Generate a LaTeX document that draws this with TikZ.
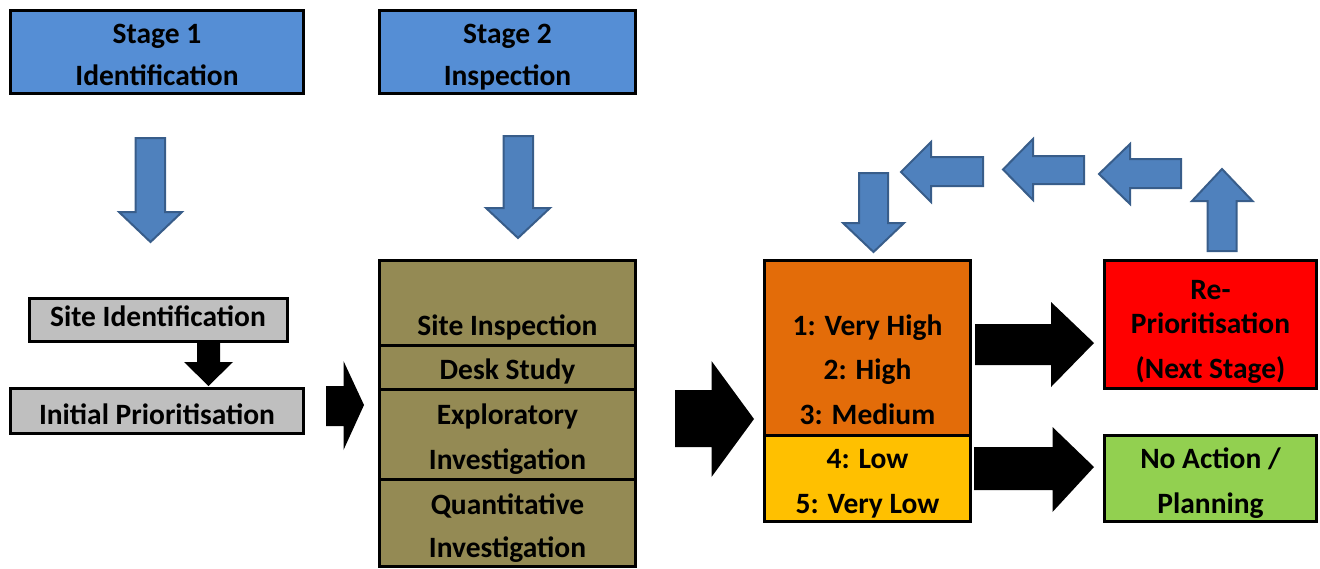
\documentclass[tikz,border=0pt]{standalone}
\usepackage{fontspec}
\setmainfont{Carlito}
\definecolor{stageblue}{HTML}{558ED5}
\definecolor{arrowblue}{HTML}{4F81BD}
\definecolor{arrowedge}{HTML}{385D8A}
\definecolor{olivebox}{HTML}{948A54}
\definecolor{riskorange}{HTML}{E36C09}
\definecolor{riskyellow}{HTML}{FFC000}
\definecolor{actgreen}{HTML}{92D050}
\definecolor{boxgrey}{HTML}{BFBFBF}
\tikzset{
  box/.style={draw=black, line width=3pt, inner sep=0pt, rectangle},
  txt/.style={font=\bfseries\fontsize{29.5}{44.5}\selectfont, align=center, inner sep=0pt, anchor=base},
  bluearrow/.style={fill=arrowblue, draw=arrowedge, line width=2pt, line join=miter},
  blackarrow/.style={fill=black, draw=none},
}
\begin{document}
\begin{tikzpicture}[x=1pt,y=-1pt] %pixel grid, y downwards
  \useasboundingbox (0,0) rectangle (1320,568);
    %Stage boxes
  \node[box, fill=stageblue, minimum width=293pt, minimum height=83pt] (stageone) at (157,52) {};
  \node[box, fill=stageblue, minimum width=256pt, minimum height=83pt] (stagetwo) at (507.5,52) {};
  \node[txt] (stageone-t) at (157,85) {Stage 1\\[-3pt]Identification};
  \node[txt] (stagetwo-t) at (507.5,85) {Stage 2\\[-3pt]Inspection};
    %Stage 1 column
  \node[box, fill=boxgrey, minimum width=258pt, minimum height=43pt] (siteid) at (158,320) {};
  \node[box, fill=boxgrey, minimum width=292.5pt, minimum height=45pt] (initprio) at (157,411) {};
  \node[txt] (siteid-t) at (158,326) {Site Identification};
  \node[txt] (initprio-t) at (157,424) {Initial Prioritisation};
    %Stage 2 column
  \node[box, fill=olivebox, minimum width=256pt, minimum height=84.5pt] (siteinsp) at (507.5,302.75) {};
  \node[box, fill=olivebox, minimum width=256pt, minimum height=44pt] (desk) at (507.5,367) {};
  \node[box, fill=olivebox, minimum width=256pt, minimum height=90pt] (explor) at (507.5,434) {};
  \node[box, fill=olivebox, minimum width=256pt, minimum height=87.5pt] (quant) at (507.5,522.75) {};
  \node[txt] (siteinsp-t) at (507.5,335) {Site Inspection};
  \node[txt] (desk-t) at (507.5,379) {Desk Study};
  \node[txt] (explor-t) at (507.5,469) {Exploratory\\Investigation};
  \node[txt] (quant-t) at (507.5,557) {Quantitative\\[-2pt]Investigation};
    %Priorities
  \node[box, fill=riskorange, minimum width=206pt, minimum height=174.5pt] (high) at (867.5,347.75) {};
  \node[box, fill=riskyellow, minimum width=206pt, minimum height=86.5pt] (low) at (867.5,478.25) {};
  \node[txt] (high-t) at (867.5,424) {1: Very High\\2: High\\3: Medium};
  \node[txt] (low-t) at (867.5,513) {4: Low\\5: Very Low};
    %Outcomes
  \node[box, fill=red, minimum width=212pt, minimum height=127.5pt] (repri) at (1210.5,324.25) {};
  \node[box, fill=actgreen, minimum width=212pt, minimum height=86pt] (noact) at (1210.5,478.5) {};
  \node[txt] (repri-t) at (1210.5,378) {Re-\\[-10pt]Prioritisation\\(Next Stage)};
  \node[txt] (noact-t) at (1210.5,513) {No Action /\\Planning};
    %Blue arrows
  \draw[bluearrow] (135.5,138) -- (165,138) -- (165,212) -- (182,212) -- (150.5,242) -- (119,212) -- (135.5,212) -- cycle;
  \draw[bluearrow] (503.5,136) -- (533,136) -- (533,208) -- (550,208) -- (518,238) -- (486,208) -- (503.5,208) -- cycle;
  \draw[bluearrow] (859,173) -- (888,173) -- (888,223) -- (904,223) -- (873.5,252) -- (843,223) -- (859,223) -- cycle;
  \draw[bluearrow] (983,157) -- (983,186) -- (931,186) -- (931,202) -- (901,172) -- (931,142) -- (931,157) -- cycle;
  \draw[bluearrow] (1084,156) -- (1084,184) -- (1033,184) -- (1033,200) -- (1003,169.5) -- (1033,139) -- (1033,156) -- cycle;
  \draw[bluearrow] (1181,159) -- (1181,188) -- (1130,188) -- (1130,204) -- (1099,174) -- (1130,144) -- (1130,159) -- cycle;
  \draw[bluearrow] (1207.5,251) -- (1236.5,251) -- (1236.5,201) -- (1252.5,201) -- (1222,169) -- (1192,201) -- (1207.5,201) -- cycle;
    %Black arrows
  \draw[blackarrow] (197,341) -- (220,341) -- (220,362) -- (233,362) -- (208.5,386) -- (184,362) -- (197,362) -- cycle;
  \draw[blackarrow] (326,386) -- (343.5,386) -- (343.5,361) -- (364,405) -- (343.5,450) -- (343.5,426) -- (326,426) -- cycle;
  \draw[blackarrow] (675,390) -- (711.5,390) -- (711.5,361) -- (754,419) -- (711.5,477) -- (711.5,447) -- (675,447) -- cycle;
  \draw[blackarrow] (975,324) -- (1051,324) -- (1051,302) -- (1094,343) -- (1051,387) -- (1051,365) -- (975,365) -- cycle;
  \draw[blackarrow] (974,447) -- (1052.5,447) -- (1052.5,427) -- (1094,467) -- (1052.5,512) -- (1052.5,490) -- (974,490) -- cycle;
\end{tikzpicture}
\end{document}
